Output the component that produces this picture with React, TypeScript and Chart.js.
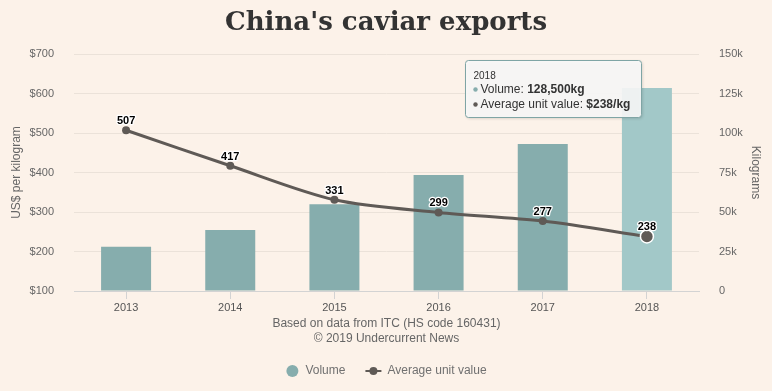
import React, { useEffect, useRef } from 'react';
import { Chart, registerables } from 'chart.js';

Chart.register(...registerables);

const TITLE = "China's caviar exports";
const YEARS = ['2013', '2014', '2015', '2016', '2017', '2018'];
const VOLUME_KG = [28000, 38600, 54900, 73400, 93000, 128500];
const UNIT_VALUE = [507, 417, 331, 299, 277, 238];
const CREDITS = ['Based on data from ITC (HS code 160431)', '\u00A9 2019 Undercurrent News'];
const SERIES_NAMES = ['Volume', 'Average unit value'];
const LEFT_AXIS_TITLE = 'US$ per kilogram';
const RIGHT_AXIS_TITLE = 'Kilograms';
const HOVER_INDEX = 5;

const BG = '#fcf2e9';
const BAR = '#86adad';
const BAR_HOVER = '#a2c8c8';
const LINE = '#5f5a56';
const SANS = '"Liberation Sans", Arial, sans-serif';

const fmtThousands = (v: number) => v.toLocaleString('en-US');

const bgPlugin = {
  id: 'bg',
  beforeDraw(chart: any) {
    const { ctx, width, height } = chart;
    ctx.save();
    ctx.fillStyle = BG;
    ctx.fillRect(0, 0, width, height);
    ctx.restore();
  },
};

const labelsPlugin = {
  id: 'pointLabels',
  afterDatasetsDraw(chart: any) {
    const { ctx } = chart;
    const meta = chart.getDatasetMeta(1);
    ctx.save();
    ctx.font = `bold 11px ${SANS}`;
    ctx.textAlign = 'center';
    ctx.textBaseline = 'alphabetic';
    ctx.lineJoin = 'round';
    meta.data.forEach((pt: any, i: number) => {
      const txt = String(UNIT_VALUE[i]);
      const y = pt.y - 6;
      ctx.strokeStyle = '#ffffff';
      ctx.lineWidth = 2.5;
      ctx.strokeText(txt, pt.x, y);
      ctx.fillStyle = '#000000';
      ctx.fillText(txt, pt.x, y);
    });
    ctx.restore();
  },
};

const decorPlugin = {
  id: 'decor',
  afterDraw(chart: any) {
    const { ctx, chartArea, width } = chart;
    const cx = width / 2;
    ctx.save();
    // Title
    ctx.fillStyle = '#333333';
    ctx.font = `bold 26px "DejaVu Serif", Georgia, serif`;
    ctx.textAlign = 'center';
    ctx.textBaseline = 'alphabetic';
    ctx.fillText(TITLE, cx, 30);

    // Credits (x axis title)
    ctx.fillStyle = '#666666';
    ctx.font = `12px ${SANS}`;
    ctx.textBaseline = 'middle';
    const midX = (chartArea.left + chartArea.right) / 2;
    ctx.fillText(CREDITS[0], midX, 324);
    ctx.fillText(CREDITS[1], midX, 339);

    // Legend
    ctx.font = `12px ${SANS}`;
    const w1 = ctx.measureText(SERIES_NAMES[0]).width;
    const w2 = ctx.measureText(SERIES_NAMES[1]).width;
    const item1 = 12 + 7 + w1;
    const item2 = 16 + 6 + w2;
    const gap = 20;
    const total = item1 + gap + item2;
    let x = midX - total / 2;
    const ly = 371;
    ctx.fillStyle = BAR;
    ctx.beginPath();
    ctx.arc(x + 6, ly, 6, 0, Math.PI * 2);
    ctx.fill();
    ctx.fillStyle = '#707070';
    ctx.textAlign = 'left';
    ctx.fillText(SERIES_NAMES[0], x + 19, ly);
    x += item1 + gap;
    ctx.strokeStyle = LINE;
    ctx.lineWidth = 2;
    ctx.beginPath();
    ctx.moveTo(x, ly);
    ctx.lineTo(x + 16, ly);
    ctx.stroke();
    ctx.fillStyle = LINE;
    ctx.beginPath();
    ctx.arc(x + 8, ly, 4, 0, Math.PI * 2);
    ctx.fill();
    ctx.fillStyle = '#707070';
    ctx.fillText(SERIES_NAMES[1], x + 22, ly);

    // Tooltip for hovered point
    const pt = chart.getDatasetMeta(1).data[HOVER_INDEX];
    const header = YEARS[HOVER_INDEX];
    const rows = [
      { color: BAR, label: `${SERIES_NAMES[0]}: `, value: `${fmtThousands(VOLUME_KG[HOVER_INDEX])}kg` },
      { color: LINE, label: `${SERIES_NAMES[1]}: `, value: `$${UNIT_VALUE[HOVER_INDEX]}/kg` },
    ];
    let maxW = 0;
    rows.forEach((r) => {
      ctx.font = `12px ${SANS}`;
      const a = ctx.measureText(r.label).width;
      ctx.font = `bold 12px ${SANS}`;
      const b = ctx.measureText(r.value).width;
      maxW = Math.max(maxW, 7 + a + b);
    });
    const bw = Math.round(maxW + 19);
    const bh = 57;
    const bx = Math.round(pt.x - 6 - bw) + 0.5;
    const by = chartArea.top + 6 + 0.5;
    ctx.save();
    ctx.shadowColor = 'rgba(0,0,0,0.18)';
    ctx.shadowOffsetX = 1;
    ctx.shadowOffsetY = 1;
    ctx.shadowBlur = 3;
    ctx.fillStyle = 'rgba(249,249,249,0.9)';
    ctx.beginPath();
    (ctx as any).roundRect(bx, by, bw, bh, 3);
    ctx.fill();
    ctx.restore();
    ctx.strokeStyle = '#7fa5a5';
    ctx.lineWidth = 1;
    ctx.beginPath();
    (ctx as any).roundRect(bx, by, bw, bh, 3);
    ctx.stroke();

    ctx.textAlign = 'left';
    ctx.textBaseline = 'alphabetic';
    const tx = bx + 8;
    ctx.fillStyle = '#333333';
    ctx.font = `10px ${SANS}`;
    ctx.fillText(header, tx, by + 18.5);
    rows.forEach((r, i) => {
      const yy = by + 32.5 + i * 15;
      ctx.fillStyle = r.color;
      ctx.beginPath();
      ctx.arc(tx + 2, yy - 3.5, 2.2, 0, Math.PI * 2);
      ctx.fill();
      ctx.fillStyle = '#333333';
      ctx.font = `12px ${SANS}`;
      ctx.fillText(r.label, tx + 7, yy);
      const a = ctx.measureText(r.label).width;
      ctx.font = `bold 12px ${SANS}`;
      ctx.fillText(r.value, tx + 7 + a, yy);
    });
    ctx.restore();
  },
};

export default function App() {
  const ref = useRef<HTMLCanvasElement | null>(null);

  useEffect(() => {
    document.body.style.margin = '0';
    const canvas = ref.current;
    if (!canvas) return;
    const chart = new Chart(canvas, {
      type: 'bar',
      data: {
        labels: YEARS,
        datasets: [
          {
            type: 'bar',
            label: SERIES_NAMES[0],
            data: VOLUME_KG,
            yAxisID: 'y1',
            order: 1,
            backgroundColor: (c: any) => (c.dataIndex === HOVER_INDEX ? BAR_HOVER : BAR),
            borderWidth: 0,
            categoryPercentage: 1,
            barPercentage: 0.48,
          },
          {
            type: 'line',
            label: SERIES_NAMES[1],
            data: UNIT_VALUE,
            yAxisID: 'y',
            order: 0,
            borderColor: LINE,
            borderWidth: 3,
            tension: 0.3,
            pointRadius: (c: any) => (c.dataIndex === HOVER_INDEX ? 6.5 : 4),
            pointBackgroundColor: LINE,
            pointBorderColor: (c: any) => (c.dataIndex === HOVER_INDEX ? '#ffffff' : LINE),
            pointBorderWidth: (c: any) => (c.dataIndex === HOVER_INDEX ? 1.5 : 0),
          } as any,
        ],
      },
      options: {
        responsive: false,
        animation: false,
        devicePixelRatio: 1,
        layout: { padding: { top: 54, left: 0, right: 0, bottom: 0 } },
        plugins: {
          legend: { display: false },
          title: { display: false },
          tooltip: { enabled: false },
        },
        scales: {
          x: {
            offset: true,
            grid: {
              display: true,
              drawOnChartArea: false,
              drawTicks: true,
              tickLength: 8,
              tickColor: '#d3d3d3',
              offset: false,
            },
            border: { display: true, color: '#d3d3d3' },
            ticks: { color: '#555555', font: { family: SANS, size: 11 }, padding: 2 },
            afterFit: (s: any) => { s.height = 100; },
          },
          y: {
            position: 'left',
            min: 100,
            max: 700,
            ticks: {
              stepSize: 100,
              color: '#666666',
              font: { family: SANS, size: 11 },
              padding: 20,
              callback: (v: any) => '$' + v,
            },
            grid: { color: '#ebe2d9', drawTicks: false },
            border: { display: false },
            title: {
              display: true,
              text: LEFT_AXIS_TITLE,
              color: '#666666',
              font: { family: SANS, size: 12 },
              padding: { top: 9, bottom: 0 },
            },
            afterFit: (s: any) => { s.width = 74; },
          },
          y1: {
            position: 'right',
            min: 0,
            max: 150000,
            ticks: {
              stepSize: 25000,
              color: '#666666',
              font: { family: SANS, size: 11 },
              padding: 20,
              callback: (v: any) => (v === 0 ? '0' : v / 1000 + 'k'),
            },
            grid: { drawOnChartArea: false, drawTicks: false },
            border: { display: false },
            title: {
              display: true,
              text: RIGHT_AXIS_TITLE,
              color: '#666666',
              font: { family: SANS, size: 12 },
              padding: { top: 9, bottom: 0 },
            },
            afterFit: (s: any) => { s.width = 73; },
          },
        },
      } as any,
      plugins: [bgPlugin, labelsPlugin, decorPlugin],
    });
    return () => chart.destroy();
  }, []);

  return (
    <div style={{ width: 772, height: 391 }}>
      <canvas ref={ref} width={772} height={391} style={{ display: 'block', width: 772, height: 391 }} />
    </div>
  );
}
